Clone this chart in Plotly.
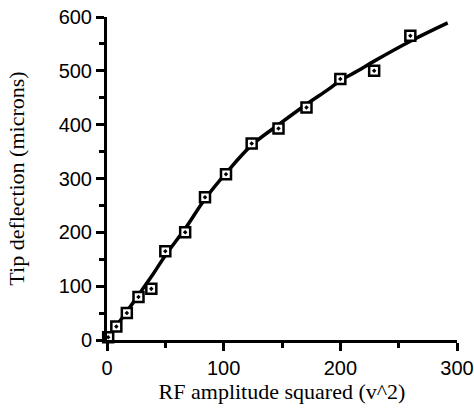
import plotly.graph_objects as go

# measured data points
rf_sq = [1, 8, 17, 27, 38, 50, 67, 84, 102, 124, 147, 171, 200, 229, 260]
deflection = [5, 25, 50, 80, 95, 165, 200, 265, 308, 365, 393, 432, 485, 500, 565]

# fitted curve
fit_x = [0, 10, 20, 30, 40, 50, 67, 84, 102, 124, 147, 171, 190, 200, 215, 229, 260, 292]
fit_y = [3, 32, 62, 93, 124, 157, 207, 262, 310, 362, 400, 438, 466, 482, 500, 518, 555, 589]

x_ticks = [0, 100, 200, 300]
y_ticks = [0, 100, 200, 300, 400, 500, 600]

fig = go.Figure()
fig.add_trace(go.Scatter(x=fit_x, y=fit_y, mode="lines",
                         line=dict(color="black", width=3.5, shape="spline", smoothing=1.0),
                         hoverinfo="skip", cliponaxis=False))
fig.add_trace(go.Scatter(x=rf_sq, y=deflection, mode="markers",
                         marker=dict(symbol="square-dot", size=10, color="white",
                                     line=dict(color="black", width=2.5)),
                         cliponaxis=False))

fig.update_layout(
    width=474, height=414,
    margin=dict(l=107, r=17, t=17, b=74),
    paper_bgcolor="white", plot_bgcolor="white",
    showlegend=False,
    font=dict(family="Liberation Sans, Arial, sans-serif", color="black"),
)
fig.update_xaxes(range=[0, 300], tickvals=x_ticks, showgrid=False, zeroline=False,
                 automargin=False, ticklabeloverflow="allow",
                 showline=True, linecolor="black", linewidth=3,
                 ticks="outside", ticklen=8, tickwidth=2.5, tickcolor="black",
                 minor=dict(dtick=50, ticks="outside", ticklen=5, tickwidth=2.5, tickcolor="black", showgrid=False),
                 tickfont=dict(size=20, family="Liberation Sans, Arial, sans-serif"),
                 title=dict(text="RF amplitude squared (v^2)", standoff=2,
                            font=dict(size=22, family="Liberation Serif, Times New Roman, serif")))
fig.update_yaxes(range=[0, 600], tickvals=y_ticks, showgrid=False, zeroline=False,
                 automargin=False, ticklabeloverflow="allow",
                 showline=True, linecolor="black", linewidth=3,
                 ticks="outside", ticklen=8, tickwidth=2.5, tickcolor="black",
                 minor=dict(dtick=50, ticks="outside", ticklen=5, tickwidth=2.5, tickcolor="black", showgrid=False),
                 tickfont=dict(size=20, family="Liberation Sans, Arial, sans-serif"),
                 ticklabelstandoff=0,
                 title=dict(text="Tip deflection (microns)", standoff=28,
                            font=dict(size=22, family="Liberation Serif, Times New Roman, serif")))

fig.write_html("out.html", config={"displayModeBar": False},
               post_script="document.body.style.margin='0px';")
